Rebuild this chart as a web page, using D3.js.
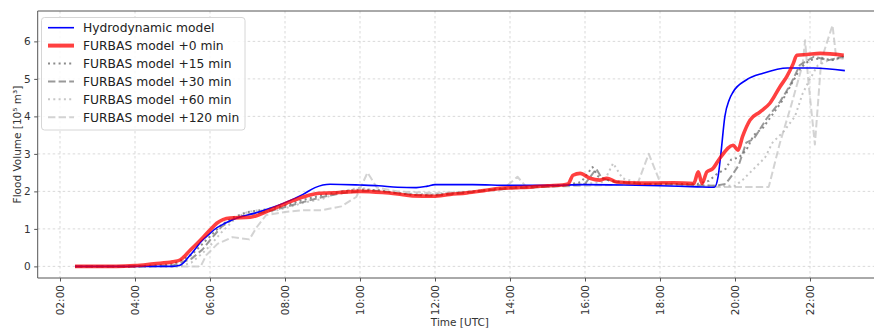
<!DOCTYPE html>
<html>
<head>
<meta charset="utf-8">
<script src="https://cdn.jsdelivr.net/npm/d3@7"></script>
<style>
body { margin: 0; background: #fff; }
svg { font-family: "DejaVu Sans", sans-serif; }
</style>
</head>
<body>
<svg width="874" height="329"></svg>
<script>
// time in hours (UTC), volume in 10^5 m3
var hydro = [[2.4,0],[3.0,0],[4.0,0],[4.5,0.0],[5.0,0.0],[5.2,0.03],[5.47,0.3],[5.8,0.7],[6.0,0.88],[6.1,0.97],
  [6.4,1.15],[6.72,1.29],[7.2,1.42],[7.6,1.55],[8.0,1.7],[8.48,1.92],[8.8,2.1],[9.2,2.19],[10.0,2.17],[10.5,2.15],
  [11.0,2.11],[11.5,2.1],[11.8,2.14],[12.0,2.18],[13.0,2.18],[14.0,2.16],[15.0,2.16],[16.0,2.18],[17.0,2.17],
  [18.0,2.15],[19.0,2.12],[19.45,2.11],[19.55,2.4],[19.62,2.97],[19.73,4.0],[19.85,4.45],[19.95,4.65],[20.3,4.97],
  [20.75,5.15],[21.4,5.29],[22.1,5.29],[22.93,5.22]];

var furbas0 = [[2.4,0],[3.5,0],[4.0,0.02],[4.5,0.07],[5.0,0.12],[5.2,0.17],[5.47,0.43],[5.82,0.78],[6.0,0.97],
  [6.18,1.15],[6.53,1.29],[7.07,1.31],[7.6,1.5],[8.05,1.69],[8.48,1.85],[8.93,1.95],[9.3,1.96],[9.55,1.98],
  [10.0,2.0],[10.6,1.97],[11.0,1.93],[11.4,1.88],[11.95,1.87],[12.4,1.92],[12.85,1.96],[13.3,2.02],[13.73,2.08],
  [14.2,2.1],[14.6,2.12],[15.0,2.15],[15.4,2.17],[15.55,2.2],[15.68,2.43],[15.87,2.48],[16.13,2.35],[16.4,2.3],
  [16.58,2.35],[16.85,2.25],[17.47,2.22],[18.35,2.23],[18.9,2.21],[19.02,2.52],[19.12,2.21],[19.25,2.52],
  [19.4,2.6],[19.6,2.89],[19.95,3.23],[20.08,3.1],[20.2,3.46],[20.4,3.9],[20.67,4.12],[20.93,4.35],[21.2,4.79],
  [21.38,5.06],[21.55,5.4],[21.65,5.63],[21.92,5.65],[22.27,5.68],[22.9,5.63]];

var furbas15 = [[2.4,0],[4.0,0],[5.0,0.05],[5.5,0.3],[5.8,0.6],[6.0,0.8],[6.3,1.1],[6.6,1.3],[7.0,1.45],[7.5,1.52],
  [8.0,1.62],[8.5,1.78],[9.0,1.9],[9.5,2.0],[10.0,2.05],[10.5,2.03],[11.0,1.95],[11.5,1.9],[12.0,1.9],[12.5,1.95],
  [13.0,2.0],[13.5,2.05],[14.0,2.1],[14.5,2.12],[15.0,2.15],[15.5,2.17],[15.9,2.25],[16.05,2.45],[16.2,2.65],
  [16.35,2.4],[16.6,2.3],[17.0,2.25],[17.5,2.2],[18.0,2.2],[18.5,2.2],[19.0,2.2],[19.3,2.28],[19.5,2.45],
  [19.75,2.6],[19.9,2.85],[20.1,2.9],[20.3,3.1],[20.5,3.5],[20.75,3.7],[21.0,4.05],[21.25,4.4],[21.5,4.85],
  [21.75,5.3],[22.0,5.5],[22.3,5.55],[22.6,5.5],[22.9,5.6]];

var furbas30 = [[2.4,0],[4.2,0],[5.0,0.02],[5.5,0.2],[5.8,0.45],[6.0,0.7],[6.3,1.05],[6.6,1.25],[7.0,1.38],
  [7.5,1.45],[8.0,1.58],[8.5,1.72],[9.0,1.85],[9.5,1.95],[10.0,2.0],[10.5,2.02],[11.0,1.95],[11.5,1.9],[12.0,1.88],
  [12.5,1.93],[13.0,1.98],[13.5,2.04],[14.0,2.08],[14.5,2.1],[15.0,2.13],[15.5,2.15],[16.0,2.2],[16.15,2.4],
  [16.3,2.6],[16.45,2.35],[16.8,2.25],[17.5,2.2],[18.5,2.18],[19.5,2.15],[19.75,2.2],[19.9,2.4],[20.1,2.7],
  [20.3,3.3],[20.5,3.4],[20.85,3.95],[21.2,4.39],[21.47,4.83],[21.73,5.37],[22.1,5.59],[22.5,5.5],[22.9,5.6]];

var furbas60 = [[2.4,0],[5.2,0],[5.5,0.1],[5.8,0.35],[6.0,0.55],[6.3,0.9],[6.7,1.3],[7.0,1.45],[7.3,1.5],
  [7.6,1.45],[8.0,1.55],[8.5,1.7],[9.0,1.8],[9.5,2.0],[10.0,2.1],[10.5,2.0],[11.0,1.95],[12.0,1.92],[13.0,2.0],
  [14.0,2.08],[15.0,2.12],[16.0,2.2],[16.5,2.25],[16.75,2.75],[17.0,2.35],[17.5,2.2],[18.5,2.18],[19.5,2.15],
  [20.0,2.15],[20.2,2.3],[20.5,2.6],[20.8,2.9],[21.0,3.3],[21.3,3.6],[21.6,4.0],[21.8,4.6],[22.0,5.0],
  [22.2,5.35],[22.5,5.5],[22.9,5.55]];

var furbas120 = [[2.4,0],[5.75,0],[5.9,0.3],[6.2,0.6],[6.6,0.78],[7.05,0.72],[7.25,1.05],[7.5,1.37],[8.0,1.45],
  [8.5,1.5],[9.0,1.5],[9.5,1.6],[9.9,1.85],[10.2,2.5],[10.45,2.1],[11.0,2.0],[12.0,1.95],[13.0,2.0],[13.8,2.05],
  [14.2,2.39],[14.45,2.1],[15.0,2.12],[16.0,2.15],[17.0,2.18],[17.4,2.2],[17.7,3.0],[18.0,2.25],[18.5,2.18],
  [19.5,2.12],[20.5,2.12],[20.9,2.12],[21.2,3.3],[21.5,4.3],[21.8,5.37],[21.87,6.03],[21.95,5.0],[22.13,3.25],
  [22.3,5.5],[22.6,6.43],[22.7,5.55],[22.9,5.55]];

var seriesNames = ["Hydrodynamic model", "FURBAS model +0 min", "FURBAS model +15 min",
  "FURBAS model +30 min", "FURBAS model +60 min", "FURBAS model +120 min"];
var xTicks = [2, 4, 6, 8, 10, 12, 14, 16, 18, 20, 22];
var yTicks = [0, 1, 2, 3, 4, 5, 6];

function hourLabel(h) {
    return (h < 10 ? "0" : "") + h + ":00";
}

function render() {
    var svg = d3.select("svg");
    var left = 37.7, right = 882, top = 11, bottom = 278;

    var xs = d3.scaleLinear().domain([1.405, 23.92]).range([left, right]);
    var ys = d3.scaleLinear().domain([-0.31, 6.81]).range([bottom, top]);

    // styles per series, same order as seriesNames
    var styles = [
        {data: hydro, color: "#0000ff", width: 1.6, dash: null, op: 1, curve: d3.curveMonotoneX},
        {data: furbas0, color: "#ff0000", width: 3.6, dash: null, op: 0.75, curve: d3.curveMonotoneX},
        {data: furbas15, color: "#6e6e6e", width: 2, dash: "2,3.3", op: 0.8, curve: d3.curveLinear},
        {data: furbas30, color: "#808080", width: 2, dash: "7.4,3.2", op: 0.8, curve: d3.curveLinear},
        {data: furbas60, color: "#b4b4b4", width: 2, dash: "2,3.3", op: 0.75, curve: d3.curveLinear},
        {data: furbas120, color: "#c4c4c4", width: 2, dash: "7.4,3.2", op: 0.75, curve: d3.curveLinear}
    ];

    svg.append("defs").append("clipPath").attr("id", "plotclip")
        .append("rect")
        .attr("x", left).attr("y", top)
        .attr("width", right - left).attr("height", bottom - top);

    // grid
    var grid = svg.append("g");
    grid.selectAll("line.gx").data(xTicks).enter().append("line")
        .attr("x1", function(d) { return xs(d); })
        .attr("x2", function(d) { return xs(d); })
        .attr("y1", top).attr("y2", bottom)
        .attr("stroke", "#cfcfcf").attr("stroke-width", 0.8)
        .attr("stroke-dasharray", "2.5,2.5");
    grid.selectAll("line.gy").data(yTicks).enter().append("line")
        .attr("x1", left).attr("x2", right)
        .attr("y1", function(d) { return ys(d); })
        .attr("y2", function(d) { return ys(d); })
        .attr("stroke", "#cfcfcf").attr("stroke-width", 0.8)
        .attr("stroke-dasharray", "2.5,2.5");

    // lines: grays first, then blue, red on top
    var plot = svg.append("g").attr("clip-path", "url(#plotclip)");
    var order = [5, 4, 3, 2, 0, 1];
    order.forEach(function(i) {
        var s = styles[i];
        var line = d3.line()
            .x(function(d) { return xs(d[0]); })
            .y(function(d) { return ys(d[1]); })
            .curve(s.curve);
        plot.append("path")
            .datum(s.data)
            .attr("d", line)
            .attr("fill", "none")
            .attr("stroke", s.color)
            .attr("stroke-width", s.width)
            .attr("stroke-opacity", s.op)
            .attr("stroke-dasharray", s.dash)
            .attr("stroke-linejoin", "round");
    });

    // spines
    svg.append("line").attr("x1", left).attr("x2", left).attr("y1", top).attr("y2", bottom)
        .attr("stroke", "#555").attr("stroke-width", 1);
    svg.append("line").attr("x1", left).attr("x2", right).attr("y1", bottom).attr("y2", bottom)
        .attr("stroke", "#555").attr("stroke-width", 1);
    svg.append("line").attr("x1", left).attr("x2", right).attr("y1", top).attr("y2", top)
        .attr("stroke", "#555").attr("stroke-width", 1);

    // axes
    var yAxis = d3.axisLeft(ys).tickValues(yTicks).tickSize(3.5).tickPadding(3.5)
        .tickFormat(d3.format("d"));
    var gy = svg.append("g").attr("transform", "translate(" + left + ",0)").call(yAxis);
    gy.select(".domain").remove();
    gy.selectAll(".tick line").attr("stroke", "#555");
    gy.selectAll(".tick text").attr("fill", "#333").style("font-size", "10.5px")
        .style("font-family", "DejaVu Sans");

    var xAxis = d3.axisBottom(xs).tickValues(xTicks).tickSize(3.5).tickFormat(hourLabel);
    var gx = svg.append("g").attr("transform", "translate(0," + bottom + ")").call(xAxis);
    gx.select(".domain").remove();
    gx.selectAll(".tick line").attr("stroke", "#555");
    gx.selectAll(".tick text")
        .attr("fill", "#333")
        .style("font-size", "10.5px")
        .style("font-family", "DejaVu Sans")
        .attr("text-anchor", "end")
        .attr("transform", "rotate(-90)")
        .attr("x", -7)
        .attr("y", 0)
        .attr("dy", "0.35em");

    svg.append("text")
        .attr("x", (left + right) / 2)
        .attr("y", 326)
        .attr("text-anchor", "middle")
        .style("font-size", "10.5px")
        .attr("fill", "#333")
        .text("Time [UTC]");

    svg.append("text")
        .attr("transform", "translate(20.5," + ((top + bottom) / 2) + ") rotate(-90)")
        .attr("text-anchor", "middle")
        .style("font-size", "10.5px")
        .attr("fill", "#333")
        .text("Flood Volume [10\u2075 m\u00b3]");

    // legend
    var lg = svg.append("g");
    lg.append("rect")
        .attr("x", 41.5).attr("y", 17.5).attr("width", 203.5).attr("height", 112.5)
        .attr("rx", 3).attr("fill", "#fff").attr("fill-opacity", 0.85)
        .attr("stroke", "#d6d6d6").attr("stroke-width", 1);
    seriesNames.forEach(function(name, i) {
        var s = styles[i];
        var yy = 27.7 + i * 17.9;
        lg.append("line")
            .attr("x1", 48).attr("x2", 74).attr("y1", yy).attr("y2", yy)
            .attr("stroke", s.color)
            .attr("stroke-width", i == 1 ? 4 : s.width)
            .attr("stroke-opacity", s.op)
            .attr("stroke-dasharray", s.dash);
        lg.append("text")
            .attr("x", 83).attr("y", yy).attr("dy", "0.35em")
            .style("font-size", "12.3px")
            .attr("fill", "#222")
            .text(name);
    });
}

render();
</script>
</body>
</html>
